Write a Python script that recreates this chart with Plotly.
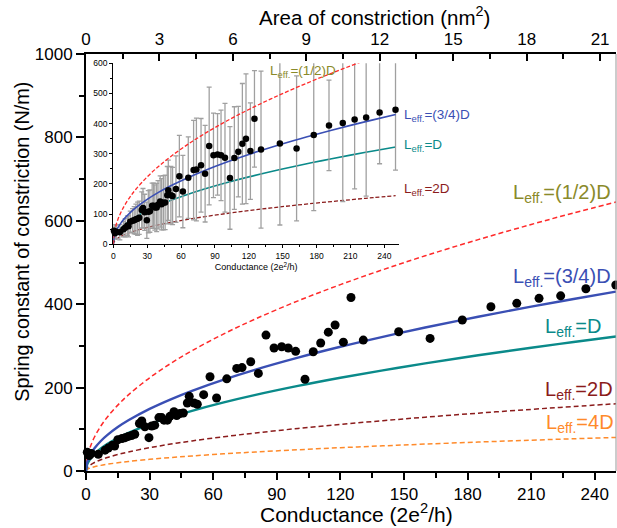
import plotly.graph_objects as go

# Measured contacts: conductance (2e^2/h), spring constant (N/m) and its spread
conductance = [0.6, 1.5, 2.5, 5.8, 9.0, 10.5, 12.5, 13.5, 15.0, 17.0, 18.5, 20.0,
               21.5, 23.0, 25.2, 26.3, 27.8, 29.7, 31.0, 32.4, 34.4, 35.7, 36.8,
               38.4, 39.6, 41.5, 42.8, 44.3, 45.9, 47.8, 48.7, 51.0, 52.5, 55.5,
               58.5, 61.6, 66.4, 71.1, 73.6, 77.7, 81.3, 84.9, 88.7, 92.3, 95.4,
               98.9, 103.3, 107.2, 110.7, 114.3, 117.5, 121.4, 125.0, 130.8,
               147.5, 162.3, 177.5, 191.0, 203.2, 213.7, 223.9, 235.8, 249.9]
spring_k = [45, 37, 42, 40, 50, 55, 62, 60, 75, 78, 80, 83,
            85, 88, 114, 120, 106, 80, 108, 110, 128, 128, 122,
            122, 131, 142, 133, 138, 139, 163, 179, 163, 160, 183,
            226, 175, 221, 246, 248, 262, 234, 326, 295, 298, 295,
            287, 220, 286, 307, 333, 350, 309, 416, 314,
            334, 318, 362, 394, 402, 414, 420, 437, 446]
spring_k_err = [20, 20, 22, 25, 25, 30, 32, 35, 35, 40, 45, 50,
                55, 55, 60, 65, 60, 60, 70, 70, 75, 75, 75,
                80, 80, 85, 85, 90, 90, 95, 100, 95, 95, 110,
                135, 120, 135, 165, 170, 155, 160, 195, 140, 135, 150,
                180, 170, 170, 150, 200, 215, 160, 160, 260,
                270, 240, 250, 150, 260, 230, 260, 170, 200]

# Elastic model curves for several effective lengths L_eff
model_g = [0, 0.5, 1, 2, 4, 7, 10, 15, 20, 30, 40, 50, 65, 80, 100, 120,
           140, 160, 185, 210, 230, 250]
k_half = [0, 28.8, 40.8, 57.7, 81.6, 107.9, 129.0, 158.0, 182.5, 223.5, 258.0,
          288.5, 328.9, 364.9, 408.0, 446.9, 482.7, 516.1, 554.9, 591.2, 618.8, 645.1]
k_three_quarter = [0, 19.2, 27.2, 38.5, 54.4, 72.0, 86.0, 105.3, 121.6, 149.0,
                   172.0, 192.3, 219.3, 243.3, 272.0, 298.0, 321.8, 344.1, 369.9,
                   394.2, 412.5, 430.1]
k_one = [0, 14.4, 20.4, 28.8, 40.8, 54.0, 64.5, 79.0, 91.2, 111.7, 129.0, 144.3,
         164.5, 182.5, 204.0, 223.5, 241.4, 258.0, 277.5, 295.6, 309.4, 322.5]
k_two = [0, 7.2, 10.2, 14.4, 20.4, 27.0, 32.3, 39.5, 45.6, 55.9, 64.5, 72.1,
         82.2, 91.2, 102.0, 111.7, 120.7, 129.0, 138.7, 147.8, 154.7, 161.3]
k_four = [0, 3.6, 5.1, 7.2, 10.2, 13.5, 16.1, 19.8, 22.8, 27.9, 32.3, 36.1,
          41.1, 45.6, 51.0, 55.9, 60.3, 64.5, 69.4, 73.9, 77.3, 80.6]

AREA_PER_G0 = 0.0866  # nm^2 of contact area per conductance quantum
G_MAX = 250

RED = "#ff2a2a"
BLUE = "#3a4fb4"
TEAL = "#0a8a8a"
DARKRED = "#8b1c1c"
ORANGE = "#ff8a2a"
OLIVE = "#8a8a2a"
FONT = "Liberation Sans, Arial, sans-serif"

fig = go.Figure()

# ---- main panel ----
curves = [
    (k_half, RED, 1.5, "5px,3px"),
    (k_two, DARKRED, 1.5, "5px,3px"),
    (k_four, ORANGE, 1.5, "5px,3px"),
    (k_one, TEAL, 2.4, "solid"),
    (k_three_quarter, BLUE, 2.4, "solid"),
]
for vals, col, lw, dash in curves:
    fig.add_trace(go.Scatter(x=model_g, y=vals, mode="lines",
                             line=dict(color=col, width=lw, dash=dash, shape="spline"),
                             xaxis="x", yaxis="y", hoverinfo="skip"))

fig.add_trace(go.Scatter(x=conductance, y=spring_k, mode="markers",
                         marker=dict(color="black", size=9),
                         cliponaxis=False, xaxis="x", yaxis="y"))

# top axis carries the contact area scale
fig.add_trace(go.Scatter(x=[0], y=[0], mode="markers",
                         marker=dict(color="rgba(0,0,0,0)", size=1),
                         xaxis="x2", yaxis="y", hoverinfo="skip"))

# ---- inset panel ----
for vals, col, lw, dash in [(k_one, TEAL, 1.6, "solid"),
                            (k_two, DARKRED, 1.3, "4px,2px")]:
    fig.add_trace(go.Scatter(x=model_g, y=vals, mode="lines",
                             line=dict(color=col, width=lw, dash=dash, shape="spline"),
                             xaxis="x3", yaxis="y3", hoverinfo="skip"))

fig.add_trace(go.Scatter(x=conductance, y=spring_k, mode="markers",
                         marker=dict(color="rgba(0,0,0,0)", size=1),
                         error_y=dict(type="data", array=spring_k_err, visible=True,
                                      color="#a0a0a0", thickness=1.3, width=2.5),
                         xaxis="x3", yaxis="y3", hoverinfo="skip"))

for vals, col, lw, dash in [(k_three_quarter, BLUE, 1.6, "solid"),
                            (k_half, RED, 1.3, "4px,2px")]:
    fig.add_trace(go.Scatter(x=model_g, y=vals, mode="lines",
                             line=dict(color=col, width=lw, dash=dash, shape="spline"),
                             xaxis="x3", yaxis="y3", hoverinfo="skip"))

fig.add_trace(go.Scatter(x=conductance, y=spring_k, mode="markers",
                         marker=dict(color="black", size=6.5),
                         cliponaxis=False, xaxis="x3", yaxis="y3"))

axis_common = dict(showline=True, linecolor="black", showgrid=False, zeroline=False,
                   tickcolor="black", tickfont=dict(size=17, color="black"))

fig.update_layout(
    width=617, height=528,
    margin=dict(l=86, r=1, t=54, b=57),
    plot_bgcolor="white", paper_bgcolor="white",
    showlegend=False,
    font=dict(family=FONT, color="black"),
    xaxis=dict(range=[0, G_MAX], tick0=0, dtick=30, ticks="outside", ticklen=7,
               tickwidth=1.5, linewidth=2,
               minor=dict(dtick=15, ticks="outside", ticklen=5, tickwidth=1.5,
                          tickcolor="black", showgrid=False),
               **axis_common),
    yaxis=dict(range=[0, 1000], tick0=0, dtick=200, ticks="outside", ticklen=8,
               tickwidth=1.5, linewidth=2,
               minor=dict(dtick=100, ticks="outside", ticklen=5, tickwidth=1.5,
                          tickcolor="black", showgrid=False),
               **axis_common),
    xaxis2=dict(overlaying="x", side="top", anchor="y",
                range=[0, G_MAX * AREA_PER_G0], tick0=0, dtick=3,
                ticks="inside", ticklen=7, tickwidth=1.5, linewidth=2,
                minor=dict(dtick=1.5, ticks="inside", ticklen=5, tickwidth=1.5,
                           tickcolor="black", showgrid=False),
                **axis_common),
    xaxis3=dict(domain=[0.0515, 0.5906], anchor="y3", range=[0, 253],
                tick0=0, dtick=30, ticks="outside", ticklen=3, tickwidth=1,
                showline=True, linewidth=1.2, linecolor="black", showgrid=False,
                zeroline=False, tickcolor="black",
                minor=dict(dtick=15, ticks="outside", ticklen=2, tickwidth=1,
                           tickcolor="black", showgrid=False),
                tickfont=dict(size=8.5, color="black"),
                title=dict(text="Conductance (2e<sup>2</sup>/h)", font=dict(size=9),
                           standoff=2)),
    yaxis3=dict(domain=[0.5436, 0.9777], anchor="x3", range=[0, 600],
                tick0=0, dtick=100, ticks="outside", ticklen=3, tickwidth=1,
                showline=True, linewidth=1.2, linecolor="black", showgrid=False,
                zeroline=False, tickcolor="black",
                minor=dict(dtick=50, ticks="outside", ticklen=2, tickwidth=1,
                           tickcolor="black", showgrid=False),
                tickfont=dict(size=8.5, color="black")),
)

# thin frame edge on the right-hand side
fig.add_shape(type="line", xref="paper", yref="paper", x0=1, x1=1, y0=0, y1=1,
              line=dict(color="#999999", width=1))

# axis titles
fig.add_annotation(text="Conductance (2e<sup>2</sup>/h)", xref="paper", yref="paper",
                   x=0.511, y=-0.1007, xanchor="center", yanchor="middle",
                   showarrow=False, font=dict(size=21, family=FONT))
fig.add_annotation(text="Area of constriction (nm<sup>2</sup>)", xref="paper",
                   yref="paper", x=0.545, y=1.091, xanchor="center",
                   yanchor="middle", showarrow=False,
                   font=dict(size=20.5, family=FONT))
fig.add_annotation(text="Spring constant of constriction (N/m)", xref="paper",
                   yref="paper", x=-0.1208, y=0.550, xanchor="center",
                   yanchor="middle", textangle=-90, showarrow=False,
                   font=dict(size=19.8, family=FONT))


def leff(text):
    return "L<sub>eff.</sub>=" + text


main_labels = [
    ("(1/2)D", OLIVE, 200.5, 666),
    ("(3/4)D", BLUE, 200.5, 464),
    ("D", TEAL, 215.6, 344),
    ("2D", DARKRED, 215.6, 193),
    ("4D", ORANGE, 216.0, 114),
]
for txt, col, gx, ky in main_labels:
    fig.add_annotation(x=gx, y=ky, xref="x", yref="y", text=leff(txt),
                       showarrow=False, xanchor="left", yanchor="middle",
                       font=dict(size=20, color=col, family=FONT))

inset_labels = [
    ("(1/2)D", OLIVE, 85.8, 958),
    ("(3/4)D", BLUE, 148.9, 852),
    ("D", TEAL, 148.9, 780),
    ("2D", DARKRED, 148.9, 675),
]
for txt, col, gx, ky in inset_labels:
    fig.add_annotation(x=gx, y=ky, xref="x", yref="y", text=leff(txt),
                       showarrow=False, xanchor="left", yanchor="middle",
                       font=dict(size=13.5, color=col, family=FONT))

fig.write_html("out.html")
